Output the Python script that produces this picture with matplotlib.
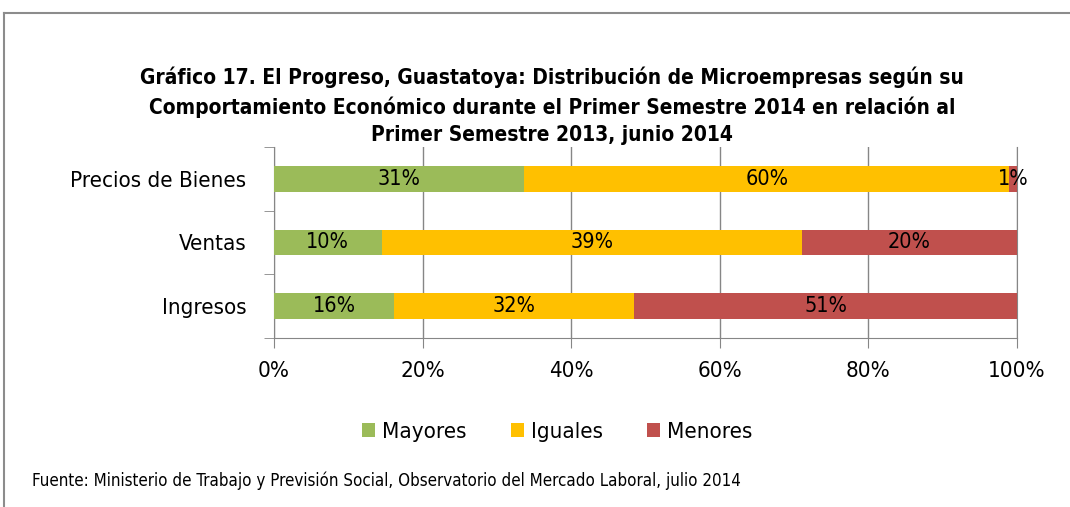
import matplotlib
matplotlib.use("Agg")
import matplotlib.pyplot as plt
import numpy as np

plt.rcParams['font.family'] = ['DejaVu Sans']
plt.rcParams['font.stretch'] = 'condensed'

categories = ["Precios de Bienes", "Ventas", "Ingresos"]
series_names = ["Mayores", "Iguales", "Menores"]
mayores = [31, 10, 16]
iguales = [60, 39, 32]
menores = [1, 20, 51]
colors = ["#9BBB59", "#FFC000", "#C0504D"]
xticks = [0, 20, 40, 60, 80, 100]

fig = plt.figure(figsize=(10.7, 5.07), dpi=100)
ax = fig.add_axes([274/1070, 1-337.5/507, (1017-274)/1070, (337.5-147.5)/507])

data = np.array([mayores, iguales, menores], dtype=float)
totals = data.sum(axis=0)
pct = data / totals * 100
y = np.arange(len(categories))[::-1]
left = np.zeros(len(categories))
for i, name in enumerate(series_names):
    ax.barh(y, pct[i], left=left, height=0.40, color=colors[i], label=name, zorder=3)
    for j in range(len(categories)):
        cx = left[j] + pct[i][j] / 2
        ax.text(cx, y[j], f"{int(data[i][j])}%", ha="center", va="center",
                fontsize=15.5, color="black", zorder=4)
    left += pct[i]

ax.set_xlim(0, 100)
ax.set_ylim(-0.5, 2.5)
ax.set_xticks(xticks)
ax.set_xticklabels([f"{v}%" for v in xticks], fontsize=16)
ax.set_yticks(y)
ax.set_yticklabels(categories, fontsize=16)
ax.set_yticks([-0.5, 0.5, 1.5, 2.5], minor=True)
ax.tick_params(axis='y', which='major', length=0, pad=20)
ax.tick_params(axis='y', which='minor', length=7, color="#868686", direction='out')
ax.tick_params(axis='x', length=7, color="#868686", pad=10)
ax.grid(axis='x', color="#868686", linewidth=1, zorder=0)
ax.spines["top"].set_visible(False)
for s in ["left", "bottom", "right"]:
    ax.spines[s].set_color("#868686")

fig.text(552/1070, 1-67/507,
         "Gráfico 17. El Progreso, Guastatoya: Distribución de Microempresas según su\n"
         "Comportamiento Económico durante el Primer Semestre 2014 en relación al\n"
         "Primer Semestre 2013, junio 2014",
         ha="center", va="top", fontsize=15, fontweight="bold", linespacing=1.45)

fig.legend(loc="center", bbox_to_anchor=(557/1070, 1-432/507), ncol=3, frameon=False,
           fontsize=16, handlelength=0.6, handleheight=0.6, handletextpad=0.3,
           columnspacing=2.0)

fig.text(32/1070, 1-481/507,
         "Fuente: Ministerio de Trabajo y Previsión Social, Observatorio del Mercado Laboral, julio 2014",
         ha="left", va="center", fontsize=12.2)

fig.add_artist(plt.Line2D([4/1070, 1], [1-13/507, 1-13/507], color="#8c8c8c", lw=1.5, transform=fig.transFigure))
fig.add_artist(plt.Line2D([4/1070, 4/1070], [0, 1-13/507], color="#8c8c8c", lw=1.5, transform=fig.transFigure))

fig.savefig("out.png", dpi=100)
